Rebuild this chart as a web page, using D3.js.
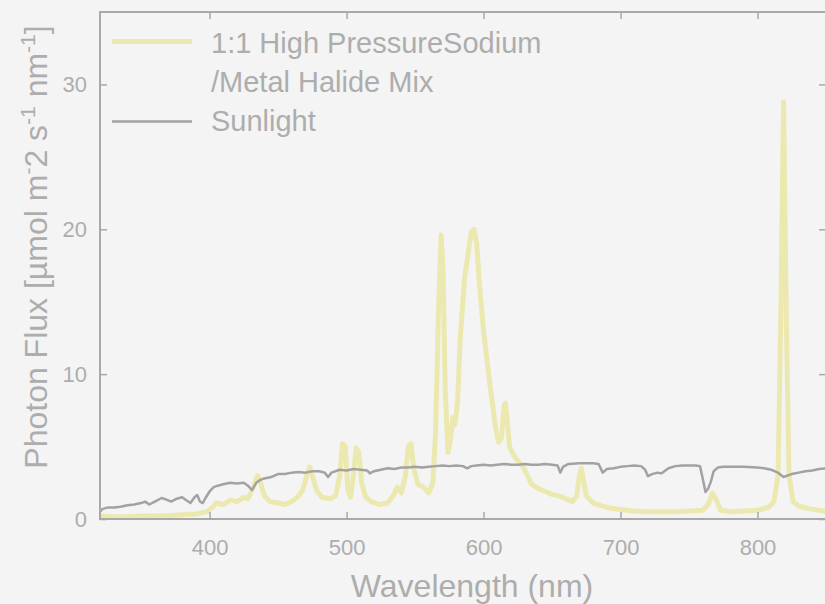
<!DOCTYPE html>
<html>
<head>
<meta charset="utf-8">
<script src="https://cdn.jsdelivr.net/npm/d3@7"></script>
<style>
  html, body { margin: 0; padding: 0; background: #f4f4f4; }
  svg { display: block; font-family: "Liberation Sans", Arial, Helvetica, sans-serif; }
</style>
</head>
<body>
<svg id="chart" width="825" height="604"></svg>
<script>
// Lamp spectrum: 1:1 high pressure sodium / metal halide mix (nm, µmol m-2 s-1 nm-1)
const lampWavelength = [320,330,340,350,360,370,380,390,398,402,405,410,415,420,425,428,432,435,437,440,444,450,455,460,465,468,471,473,475,478,482,488,492,495,497,499,501,503,505,507,509,511,514,518,524,530,534,537,540,543,545,547,549,552,556,560,563,565,567,569,570.5,572,574,576,577.5,579,581,583,586,589,591,593,595,597,600,602,605,607,609,611,613,615,616,617.5,619,622,625,629,632,635,640,645,650,655,660,665,668,670,671.5,673,675,680,690,700,710,720,730,740,750,760,764,767,770,773,780,790,800,808,812,815,817,819,821,823,826,830,838,845,850];
const lampFlux = [0.2,0.15,0.15,0.2,0.2,0.25,0.3,0.35,0.5,0.8,1.1,1.0,1.3,1.2,1.5,1.4,2.2,3.0,2.6,1.6,1.2,1.1,1.0,1.2,1.6,2.0,3.0,3.6,3.0,2.0,1.5,1.4,1.6,3.0,5.2,5.0,2.0,1.5,3.0,4.9,4.6,2.5,1.5,1.2,1.0,1.1,1.6,2.2,1.8,3.0,5.0,5.2,3.5,2.4,2.2,1.8,2.5,6.0,14.0,19.6,17.0,9.0,4.6,5.5,7.0,6.5,8.0,12.5,16.5,18.5,19.8,20.0,19.0,16.2,13.0,11.4,9.0,7.6,6.2,5.3,5.6,7.8,8.0,6.5,5.0,4.4,4.0,3.6,3.0,2.4,2.1,1.9,1.7,1.6,1.4,1.2,1.6,3.0,3.5,2.6,1.6,1.1,0.8,0.65,0.55,0.5,0.5,0.5,0.55,0.6,1.0,1.8,1.3,0.6,0.5,0.55,0.6,0.8,1.2,3.0,14.0,28.8,14.0,3.0,1.2,0.9,0.7,0.6,0.55];

// Sunlight spectrum
const sunWavelength = [320,322,326,330,335,340,345,350,353,356,360,365,368,372,376,380,383,386,389,391,393,395,397,400,403,406,410,415,420,425,428,431,434,437,440,445,450,455,460,465,470,475,480,484,486.5,489,495,500,505,510,515,517,520,525,530,535,540,545,550,555,560,565,570,575,580,585,588,591,595,600,605,610,615,620,625,630,635,640,645,650,654,656,658,662,670,680,684,687,690,695,700,705,710,715,718,720,723,727,730,735,740,745,750,755,758,760,762,764,766,768,771,775,780,790,800,805,810,815,819,822,825,830,835,840,845,850];
const sunFlux = [0.5,0.7,0.8,0.8,0.85,0.95,1.0,1.1,1.2,1.0,1.2,1.45,1.35,1.2,1.4,1.5,1.3,1.1,1.5,1.65,1.2,1.1,1.45,1.9,2.2,2.3,2.4,2.5,2.45,2.5,2.3,2.0,2.5,2.7,2.8,2.9,3.1,3.1,3.2,3.25,3.2,3.3,3.3,3.2,2.9,3.2,3.4,3.35,3.45,3.4,3.35,3.15,3.3,3.4,3.5,3.45,3.55,3.55,3.6,3.55,3.6,3.65,3.7,3.65,3.7,3.65,3.5,3.65,3.7,3.75,3.7,3.75,3.8,3.75,3.75,3.8,3.75,3.75,3.8,3.75,3.7,3.2,3.6,3.8,3.85,3.85,3.8,3.2,3.45,3.5,3.6,3.65,3.7,3.65,3.4,2.95,3.1,3.2,3.15,3.5,3.65,3.7,3.7,3.7,3.65,2.8,1.86,2.1,2.6,3.3,3.55,3.6,3.6,3.6,3.55,3.5,3.4,3.2,2.9,3.0,3.1,3.2,3.3,3.35,3.45,3.5];

const xTicks = [400, 500, 600, 700, 800];
const yTicks = [0, 10, 20, 30];
const seriesNames = ["1:1 High PressureSodium", "/Metal Halide Mix", "Sunlight"];

const lampColor = "#ece9b0";
const sunColor = "#a2a2a2";
const axisColor = "#a9a9a9";
const textColor = "#adadad";

const svg = d3.select("#chart");
const W = 825, H = 604;
const plot = { left: 100, right: 826, top: 12, bottom: 519 };

svg.append("rect").attr("width", W).attr("height", H).attr("fill", "#f4f4f4");

const x = d3.scaleLinear().domain([320, 850]).range([plot.left, plot.right]);
const y = d3.scaleLinear().domain([0, 35]).range([plot.bottom, plot.top]);

svg.append("clipPath").attr("id", "plotClip")
  .append("rect")
  .attr("x", plot.left).attr("y", plot.top)
  .attr("width", plot.right - plot.left).attr("height", plot.bottom - plot.top);

const line = d3.line().x(d => x(d[0])).y(d => y(d[1]));
const lampData = d3.zip(lampWavelength, lampFlux);
const sunData = d3.zip(sunWavelength, sunFlux);

const lines = svg.append("g").attr("clip-path", "url(#plotClip)");
lines.append("path").datum(lampData)
  .attr("d", line).attr("fill", "none")
  .attr("stroke", lampColor).attr("stroke-width", 5)
  .attr("stroke-linejoin", "round");
lines.append("path").datum(sunData)
  .attr("d", line).attr("fill", "none")
  .attr("stroke", sunColor).attr("stroke-width", 2.5)
  .attr("stroke-linejoin", "round");

// Axes with inward ticks on all four sides
function styleAxis(g) {
  g.select(".domain").remove();
  g.selectAll(".tick line").attr("stroke", axisColor).attr("stroke-width", 1.5);
  g.selectAll(".tick text").attr("fill", textColor).attr("font-size", 22)
    .attr("font-family", "Liberation Sans, Arial, sans-serif");
}

svg.append("g").attr("transform", `translate(0,${plot.bottom})`)
  .call(d3.axisBottom(x).tickValues(xTicks).tickSize(-7).tickPadding(20))
  .call(styleAxis);
svg.append("g").attr("transform", `translate(0,${plot.top})`)
  .call(d3.axisTop(x).tickValues(xTicks).tickSize(-7).tickFormat(""))
  .call(styleAxis);
svg.append("g").attr("transform", `translate(${plot.left},0)`)
  .call(d3.axisLeft(y).tickValues(yTicks).tickSize(-7).tickPadding(13))
  .call(styleAxis);
svg.append("g").attr("transform", `translate(${plot.right},0)`)
  .call(d3.axisRight(y).tickValues(yTicks).tickSize(-7).tickFormat(""))
  .call(styleAxis);

// Frame
svg.append("rect")
  .attr("x", plot.left).attr("y", plot.top)
  .attr("width", plot.right - plot.left).attr("height", plot.bottom - plot.top)
  .attr("fill", "none").attr("stroke", axisColor).attr("stroke-width", 2);

// Axis titles
svg.append("text")
  .attr("x", 472).attr("y", 597)
  .attr("text-anchor", "middle")
  .attr("font-size", 32).attr("fill", textColor)
  .text("Wavelength (nm)");

const yTitle = svg.append("text")
  .attr("transform", "translate(47,247) rotate(-90)")
  .attr("text-anchor", "middle")
  .attr("font-size", 32).attr("fill", textColor);
yTitle.append("tspan").text("Photon Flux [µmol m");
yTitle.append("tspan").attr("font-size", 21).attr("dy", -12).text("-");
yTitle.append("tspan").attr("dy", 12).text("2 s");
yTitle.append("tspan").attr("font-size", 21).attr("dy", -12).text("-1");
yTitle.append("tspan").attr("dy", 12).text(" nm");
yTitle.append("tspan").attr("font-size", 21).attr("dy", -12).text("-1");
yTitle.append("tspan").attr("dy", 12).text("]");

// Legend
const legend = svg.append("g");
legend.append("line")
  .attr("x1", 112).attr("x2", 192).attr("y1", 41.5).attr("y2", 41.5)
  .attr("stroke", lampColor).attr("stroke-width", 5);
legend.append("line")
  .attr("x1", 112).attr("x2", 192).attr("y1", 121.5).attr("y2", 121.5)
  .attr("stroke", sunColor).attr("stroke-width", 2.5);
const legendY = [53, 92, 131];
legend.selectAll("text.entry").data(seriesNames).join("text")
  .attr("class", "entry")
  .attr("x", 211).attr("y", (d, i) => legendY[i])
  .attr("font-size", 29).attr("fill", textColor)
  .text(d => d);
</script>
</body>
</html>
